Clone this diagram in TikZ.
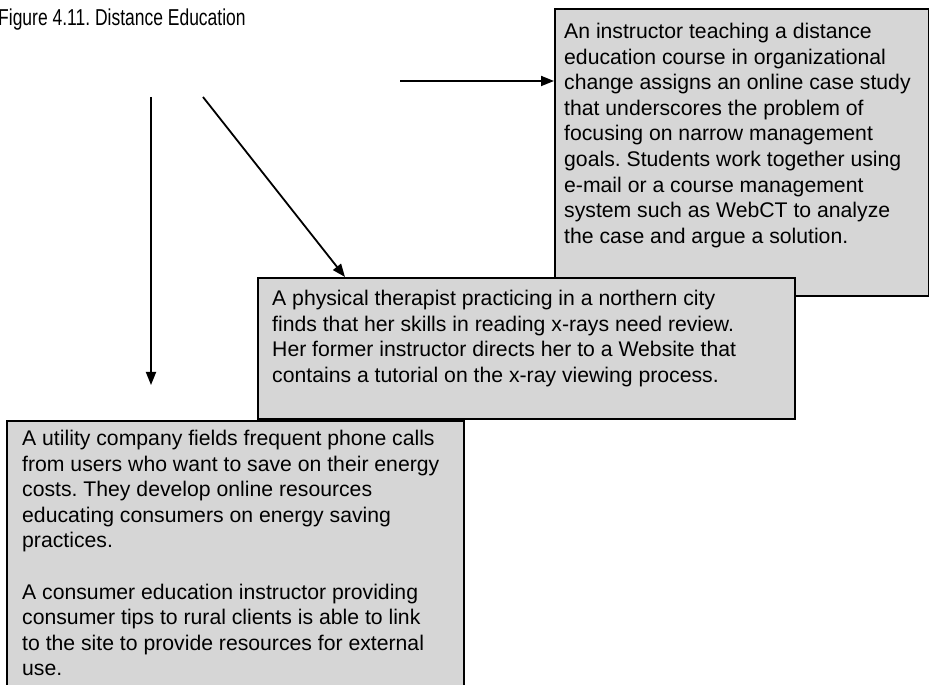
\documentclass[tikz,border=0pt]{standalone}
\usepackage{graphicx}
\usepackage{fontspec}
\setmainfont{Liberation Sans}
\usetikzlibrary{arrows.meta,calc}
\definecolor{boxfill}{RGB}{214,214,214}
\frenchspacing
\begin{document}
\begin{tikzpicture}[x=1pt,y=1pt,
  card/.style={draw=black, line width=1.8pt, fill=boxfill, rectangle, inner sep=0pt, anchor=north west},
  cardtext/.style={anchor=north west, inner sep=0pt, align=left, font=\fontsize{21.2}{25.6}\selectfont},
  link/.style={line width=1.8pt, -{Triangle[length=13pt,width=10pt]}},
  heading/.style={anchor=base west, inner sep=0pt, font=\fontsize{23}{26}\selectfont}]
\useasboundingbox (0,0) rectangle (929,685);

% caption
\node[heading] (title) at (-2,659) {\scalebox{0.76}[1]{Figure 4.11. Distance Education}};

% case study box (back)
\node[card, minimum width=374pt, minimum height=287pt] (case) at (554,677) {};
\node[cardtext] (casetext) at ([shift={(10,-15)}]case.north west)
  {An instructor teaching a distance\\
   education course in organizational\\
   change assigns an online case study\\
   that underscores the problem of\\
   focusing on narrow management\\
   goals. Students work together using\\
   e-mail or a course management\\
   system such as WebCT to analyze\\
   the case and argue a solution.};

% x-ray tutorial box (middle)
\node[card, minimum width=537pt, minimum height=141pt] (xray) at (257,408) {};
\node[cardtext] (xraytext) at ([shift={(15,-13)}]xray.north west)
  {A physical therapist practicing in a northern city\\
   finds that her skills in reading x-rays need review.\\
   Her former instructor directs her to a Website that\\
   contains a tutorial on the x-ray viewing process.};

% utility company box (front)
\node[card, minimum width=457pt, minimum height=285pt] (utility) at (6,265) {};
\node[cardtext] (utiltext) at ([shift={(16,-10)}]utility.north west)
  {A utility company fields frequent phone calls\\
   from users who want to save on their energy\\
   costs. They develop online resources\\
   educating consumers on energy saving\\
   practices.\\[\baselineskip]
   A consumer education instructor providing\\
   consumer tips to rural clients is able to link\\
   to the site to provide resources for external\\
   use.};

% connectors
\coordinate (hstart) at (400,604);
\coordinate (vstart) at (151,588);
\coordinate (vend) at (151,300);
\coordinate (dstart) at (203,588);
\draw[link] (hstart) -- (case.west |- hstart);
\draw[link] (vstart) -- (vend);
\draw[link] (dstart) -- ($(xray.north west)+(88,0)$);
\end{tikzpicture}
\end{document}
